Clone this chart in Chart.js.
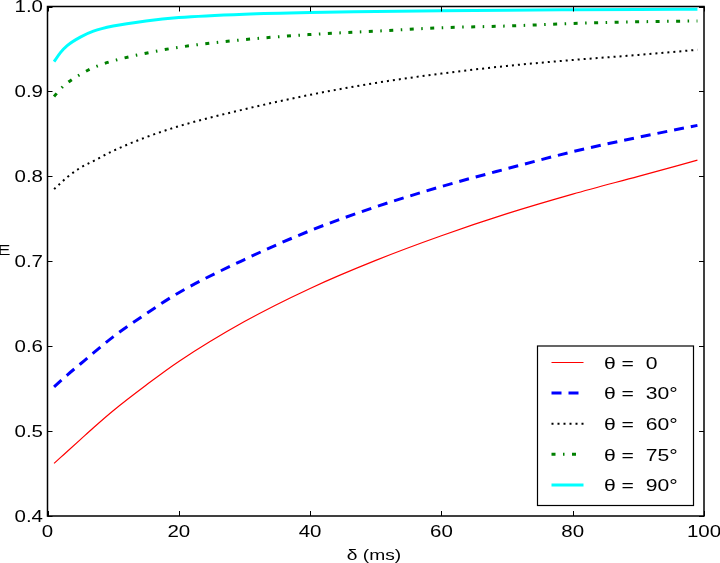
<!DOCTYPE html>
<html>
<head>
<meta charset="utf-8">
<script src="https://cdn.jsdelivr.net/npm/chart.js@4.4.1/dist/chart.umd.min.js"></script>
<style>
  html, body { margin: 0; padding: 0; background: #fff; }
  #wrap { width: 720px; height: 563px; position: relative; }
</style>
</head>
<body>
<div id="wrap"><canvas id="c"></canvas></div>
<script>
// ---- data ----
const delta = [1, 2, 3, 5, 7, 10, 15, 20, 30, 40, 50, 60, 70, 80, 90, 99];
const E_theta0  = [0.462, 0.469, 0.476, 0.490, 0.504, 0.524, 0.554, 0.582, 0.629, 0.668, 0.701, 0.730, 0.756, 0.779, 0.800, 0.819];
const E_theta30 = [0.552, 0.559, 0.566, 0.579, 0.592, 0.611, 0.638, 0.663, 0.702, 0.736, 0.764, 0.788, 0.809, 0.829, 0.846, 0.860];
const E_theta60 = [0.785, 0.792, 0.799, 0.810, 0.818, 0.830, 0.846, 0.859, 0.879, 0.896, 0.910, 0.921, 0.930, 0.937, 0.943, 0.949];
const E_theta75 = [0.894, 0.903, 0.910, 0.920, 0.928, 0.936, 0.945, 0.952, 0.961, 0.967, 0.971, 0.975, 0.977, 0.980, 0.982, 0.983];
const E_theta90 = [0.935, 0.946, 0.954, 0.964, 0.971, 0.977, 0.983, 0.987, 0.991, 0.993, 0.994, 0.995, 0.9957, 0.9962, 0.9966, 0.9969];
const seriesLabels = ['θ =  0', 'θ =  30°', 'θ =  60°', 'θ =  75°', 'θ =  90°'];
const xTickLabels = ['0', '20', '40', '60', '80', '100'];
const yTickLabels = ['0.4', '0.5', '0.6', '0.7', '0.8', '0.9', '1.0'];
const xAxisTitle = 'δ (ms)';
const yAxisTitle = 'E';

const FONT = '"Liberation Sans", Arial, sans-serif';
const SX = 1.28; // horizontal stretch of all text in the reference
const toPts = arr => arr.map((v, i) => ({ x: delta[i], y: v }));

const styles = [
  { color: '#ff0000', width: 1.2, dash: [] },
  { color: '#0000ff', width: 3, dash: [10, 7] },
  { color: '#000000', width: 2, dash: [2, 4] },
  { color: '#008000', width: 3, dash: [4, 7.5, 1.5, 7.5] },
  { color: '#00ffff', width: 3, dash: [] }
];
const seriesData = [E_theta0, E_theta30, E_theta60, E_theta75, E_theta90];

const datasets = seriesData.map((arr, i) => ({
  label: seriesLabels[i],
  data: toPts(arr),
  borderColor: styles[i].color,
  backgroundColor: styles[i].color,
  borderWidth: styles[i].width,
  borderDash: styles[i].dash,
  borderCapStyle: 'butt',
  pointRadius: 0,
  fill: false,
  cubicInterpolationMode: 'monotone'
}));

function drawText(ctx, text, x, y, align, size) {
  ctx.save();
  ctx.translate(x, y);
  ctx.scale(SX, 1);
  ctx.font = size + 'px ' + FONT;
  ctx.fillStyle = '#000';
  ctx.textAlign = align;
  ctx.textBaseline = 'alphabetic';
  ctx.fillText(text, 0, 0);
  ctx.restore();
}

const framePlugin = {
  id: 'frame',
  afterDraw(chart) {
    const ctx = chart.ctx;
    const a = chart.chartArea;
    const xs = chart.scales.x, ys = chart.scales.y;
    ctx.save();
    ctx.strokeStyle = '#000';
    ctx.lineWidth = 1;
    const tl = 5;
    xs.ticks.forEach((t, i) => {
      const px = xs.getPixelForValue(t.value);
      const rp = Math.round(px) + 0.5;
      ctx.beginPath();
      ctx.moveTo(rp, a.bottom); ctx.lineTo(rp, a.bottom - tl);
      ctx.moveTo(rp, a.top); ctx.lineTo(rp, a.top + tl);
      ctx.stroke();
      drawText(ctx, xTickLabels[i], px, 537, 'center', 16);
    });
    ys.ticks.forEach((t, i) => {
      const py = ys.getPixelForValue(t.value);
      const rp = Math.round(py) + 0.5;
      ctx.beginPath();
      ctx.moveTo(a.left, rp); ctx.lineTo(a.left + tl, rp);
      ctx.moveTo(a.right, rp); ctx.lineTo(a.right - tl, rp);
      ctx.stroke();
      drawText(ctx, yTickLabels[i], 43, py + 5.8, 'right', 16);
    });
    ctx.lineWidth = 1.5;
    ctx.strokeRect(a.left, a.top, a.right - a.left, a.bottom - a.top);

    // axis titles
    drawText(ctx, xAxisTitle, 374, 560, 'center', 15);
    drawText(ctx, yAxisTitle, 10.5, 254.5, 'right', 15.5);

    // legend
    const bx = 537.5, by = 346, bw = 156, bh = 159.5;
    ctx.fillStyle = '#fff';
    ctx.fillRect(bx, by, bw, bh);
    ctx.lineWidth = 1.2;
    ctx.strokeStyle = '#000';
    ctx.strokeRect(bx, by, bw, bh);
    chart.data.datasets.forEach((ds, i) => {
      const y = by + 16.5 + i * 30.6;
      ctx.save();
      ctx.strokeStyle = ds.borderColor;
      ctx.lineWidth = ds.borderWidth;
      ctx.setLineDash(ds.borderDash);
      ctx.lineCap = 'butt';
      ctx.beginPath();
      ctx.moveTo(551.5, y); ctx.lineTo(583.5, y);
      ctx.stroke();
      ctx.restore();
      drawText(ctx, ds.label, 604, y + 6.3, 'left', 16.5);
    });
    ctx.restore();
  }
};

new Chart(document.getElementById('c'), {
  type: 'line',
  data: { datasets },
  options: {
    responsive: true,
    maintainAspectRatio: false,
    animation: false,
    devicePixelRatio: 1,
    layout: { padding: { top: 6.5, right: 16, left: 0, bottom: 0 } },
    plugins: { legend: { display: false }, tooltip: { enabled: false } },
    scales: {
      x: {
        type: 'linear', min: 0, max: 100,
        grid: { display: false, drawTicks: false, tickLength: 0 },
        border: { display: false },
        ticks: { stepSize: 20, display: false },
        afterFit: s => { s.height = 47; s.paddingLeft = 0; s.paddingRight = 0; }
      },
      y: {
        type: 'linear', min: 0.4, max: 1.0,
        grid: { display: false, drawTicks: false, tickLength: 0 },
        border: { display: false },
        ticks: { stepSize: 0.1, display: false },
        afterFit: s => { s.width = 47.5; s.paddingTop = 0; s.paddingBottom = 0; }
      }
    }
  },
  plugins: [framePlugin]
});
</script>
</body>
</html>
